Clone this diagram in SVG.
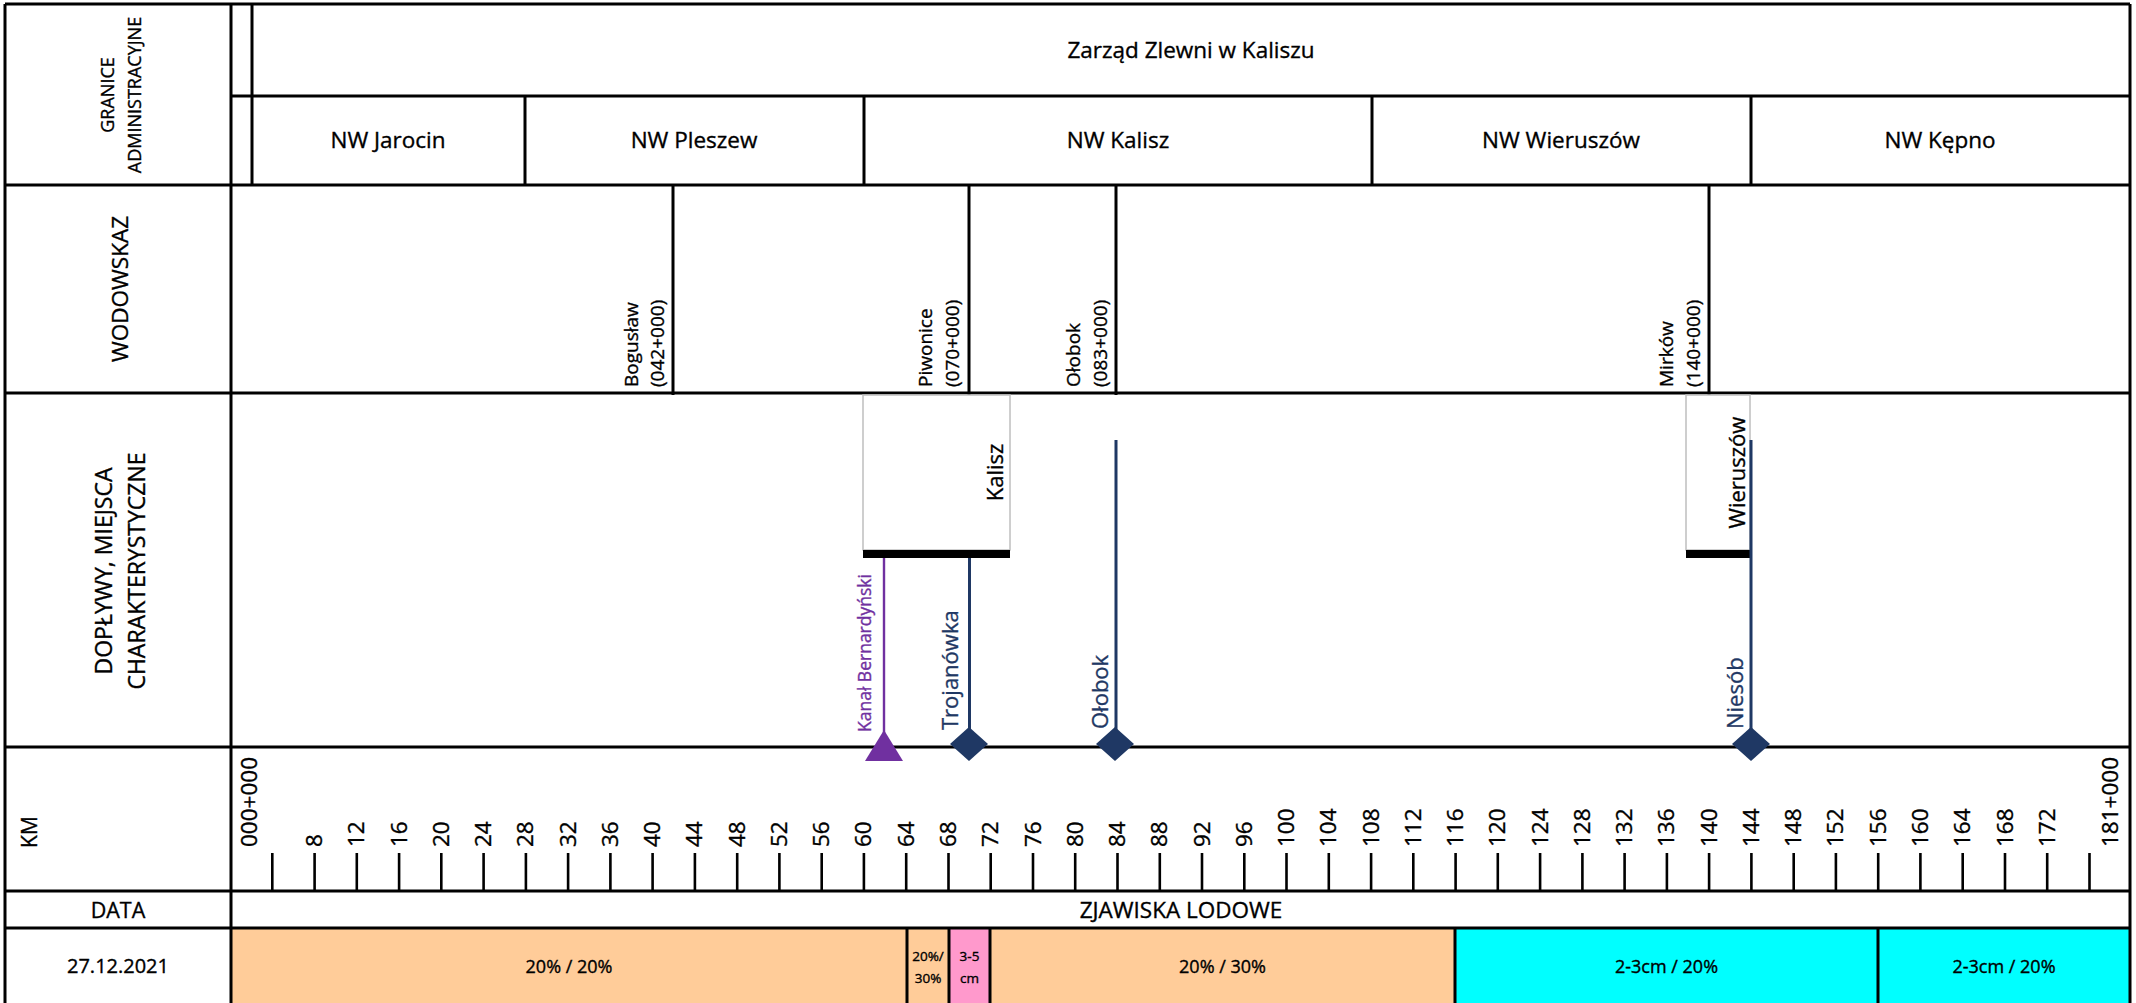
<svg xmlns="http://www.w3.org/2000/svg" width="2136" height="1003" viewBox="0 0 2136 1003">
<style>
.ln{stroke:#000;stroke-width:3;fill:none}
.tk{stroke:#000;stroke-width:2.6;fill:none}
.t{font-family:"Open Sans","Liberation Sans",sans-serif;fill:#000;stroke:#000;stroke-width:0.35}
.h{font-size:22.5px;text-anchor:middle}
.km{font-size:22.5px}
.gl{font-size:19px}
.trib{font-size:22px;fill:#1F3864;stroke:#1F3864}
.purp{font-size:17.5px;fill:#7030A0;stroke:#7030A0}
.cell{font-size:18px;text-anchor:middle}
.sm{font-size:13.5px;text-anchor:middle}
.box{fill:#fff;stroke:#BFBFBF;stroke-width:1.5}
.navy{stroke:#1F3864;stroke-width:3;fill:none}
</style>
<defs>
<path id="dia" d="M0,-17 L19,0 L0,17 L-19,0 Z" fill="#1F3864"/>
</defs>
<rect x="0" y="0" width="2136" height="1003" fill="#fff"/>

<g id="ice-cells">
<rect x="231" y="928" width="676" height="75" fill="#FFCC99"/>
<rect x="907" y="928" width="42" height="75" fill="#FFCC99"/>
<rect x="949" y="928" width="41" height="75" fill="#FF99CC"/>
<rect x="990" y="928" width="465" height="75" fill="#FFCC99"/>
<rect x="1455" y="928" width="423" height="75" fill="#00FFFF"/>
<rect x="1878" y="928" width="252" height="75" fill="#00FFFF"/>
</g>

<g id="grid">
<path class="ln" d="M5,4 H2130 M231,96 H2130 M5,185 H2130 M5,393 H2130 M5,747 H2130 M5,891 H2130 M5,928 H2130"/>
<path class="ln" d="M5,4 V1003 M2130,4 V1003 M231,4 V1003 M252,4 V185"/>
<path class="ln" d="M525,96 V185 M864,96 V185 M1372,96 V185 M1751,96 V185"/>
<path class="ln" d="M673,185 V395 M969,185 V395 M1116,185 V395 M1709,185 V395"/>
<path class="ln" d="M907,928 V1003 M949,928 V1003 M990,928 V1003 M1455,928 V1003 M1878,928 V1003"/>
</g>

<g id="headers">
<text class="t" font-size="18" text-anchor="middle" transform="translate(114,95) rotate(-90)">GRANICE<tspan x="0" dy="27">ADMINISTRACYJNE</tspan></text>
<text class="t" font-size="22.5" text-anchor="middle" transform="translate(128,289) rotate(-90)">WODOWSKAZ</text>
<text class="t" font-size="23" text-anchor="middle" transform="translate(112,571) rotate(-90)">DOPŁYWY, MIEJSCA<tspan x="0" dy="33">CHARAKTERYSTYCZNE</tspan></text>
<text class="t" font-size="21" text-anchor="middle" transform="translate(37,832) rotate(-90)">KM</text>
<text class="t" font-size="21.5" text-anchor="middle" x="118" y="918">DATA</text>
<text class="t" font-size="20" text-anchor="middle" x="118" y="973">27.12.2021</text>
<text class="t h" x="1191" y="58">Zarząd Zlewni w Kaliszu</text>
<text class="t h" x="1181" y="918">ZJAWISKA LODOWE</text>
</g>

<g id="admin">
<text class="t h" x="388" y="148">NW Jarocin</text>
<text class="t h" x="694" y="148">NW Pleszew</text>
<text class="t h" x="1118" y="148">NW Kalisz</text>
<text class="t h" x="1561" y="148">NW Wieruszów</text>
<text class="t h" x="1940" y="148">NW Kępno</text>
</g>

<g id="gauges">
<text class="t gl" transform="translate(638,387) rotate(-90)">Bogusław<tspan x="0" dy="26">(042+000)</tspan></text>
<text class="t gl" transform="translate(932,387) rotate(-90)">Piwonice<tspan x="0" dy="27">(070+000)</tspan></text>
<text class="t gl" transform="translate(1080,387) rotate(-90)">Ołobok<tspan x="0" dy="27">(083+000)</tspan></text>
<text class="t gl" transform="translate(1673,387) rotate(-90)">Mirków<tspan x="0" dy="27">(140+000)</tspan></text>
</g>

<g id="city-kalisz">
<rect class="box" x="863" y="395" width="147" height="155"/>
<rect x="863" y="550" width="147" height="8" fill="#000"/>
<text class="t" font-size="22" text-anchor="middle" transform="translate(1003,472.5) rotate(-90)">Kalisz</text>
</g>
<g id="city-wieruszow">
<rect class="box" x="1686" y="395" width="64" height="155"/>
<rect x="1686" y="550" width="64" height="8" fill="#000"/>
<text class="t" font-size="22" text-anchor="middle" transform="translate(1745,472.5) rotate(-90)">Wieruszów</text>
</g>

<g id="connectors">
<line x1="884" y1="558" x2="884" y2="735" stroke="#7030A0" stroke-width="2.4"/>
<line class="navy" x1="969.5" y1="558" x2="969.5" y2="735"/>
<line class="navy" x1="1116" y1="440" x2="1116" y2="735"/>
<line class="navy" x1="1751" y1="440" x2="1751" y2="735"/>
</g>

<g id="trib-kanal">
<polygon points="884,730 903,761 865,761" fill="#7030A0"/>
<text class="t purp" transform="translate(871,732) rotate(-90)">Kanał Bernardyński</text>
</g>
<g id="trib-trojanowka">
<use href="#dia" x="969" y="744"/>
<text class="t trib" transform="translate(958,730) rotate(-90)">Trojanówka</text>
</g>
<g id="trib-olobok">
<use href="#dia" x="1115" y="744"/>
<text class="t trib" transform="translate(1108,729) rotate(-90)">Ołobok</text>
</g>
<g id="trib-niesob">
<use href="#dia" x="1751" y="744"/>
<text class="t trib" transform="translate(1743,729) rotate(-90)">Niesób</text>
</g>

<g id="km-axis">
<path class="tk" d="M272.3,853V891 M314.6,853V891 M356.8,853V891 M399.1,853V891 M441.3,853V891 M483.6,853V891 M525.9,853V891 M568.1,853V891 M610.4,853V891 M652.6,853V891 M694.9,853V891 M737.2,853V891 M779.4,853V891 M821.7,853V891 M863.9,853V891 M906.2,853V891 M948.5,853V891 M990.7,853V891 M1033,853V891 M1075.2,853V891 M1117.5,853V891 M1159.8,853V891 M1202,853V891 M1244.3,853V891 M1286.5,853V891 M1328.8,853V891 M1371.1,853V891 M1413.3,853V891 M1455.6,853V891 M1497.8,853V891 M1540.1,853V891 M1582.4,853V891 M1624.6,853V891 M1666.9,853V891 M1709.1,853V891 M1751.4,853V891 M1793.7,853V891 M1835.9,853V891 M1878.2,853V891 M1920.4,853V891 M1962.7,853V891 M2005,853V891 M2047.2,853V891 M2089.5,853V891"/>
<g class="t km">
<text transform="translate(257,847) rotate(-90)">000+000</text>
<text transform="translate(322.1,847) rotate(-90)">8</text>
<text transform="translate(364.3,847) rotate(-90)">12</text>
<text transform="translate(406.6,847) rotate(-90)">16</text>
<text transform="translate(448.8,847) rotate(-90)">20</text>
<text transform="translate(491.1,847) rotate(-90)">24</text>
<text transform="translate(533.4,847) rotate(-90)">28</text>
<text transform="translate(575.6,847) rotate(-90)">32</text>
<text transform="translate(617.9,847) rotate(-90)">36</text>
<text transform="translate(660.1,847) rotate(-90)">40</text>
<text transform="translate(702.4,847) rotate(-90)">44</text>
<text transform="translate(744.7,847) rotate(-90)">48</text>
<text transform="translate(786.9,847) rotate(-90)">52</text>
<text transform="translate(829.2,847) rotate(-90)">56</text>
<text transform="translate(871.4,847) rotate(-90)">60</text>
<text transform="translate(913.7,847) rotate(-90)">64</text>
<text transform="translate(956,847) rotate(-90)">68</text>
<text transform="translate(998.2,847) rotate(-90)">72</text>
<text transform="translate(1040.5,847) rotate(-90)">76</text>
<text transform="translate(1082.7,847) rotate(-90)">80</text>
<text transform="translate(1125,847) rotate(-90)">84</text>
<text transform="translate(1167.3,847) rotate(-90)">88</text>
<text transform="translate(1209.5,847) rotate(-90)">92</text>
<text transform="translate(1251.8,847) rotate(-90)">96</text>
<text transform="translate(1294,847) rotate(-90)">100</text>
<text transform="translate(1336.3,847) rotate(-90)">104</text>
<text transform="translate(1378.6,847) rotate(-90)">108</text>
<text transform="translate(1420.8,847) rotate(-90)">112</text>
<text transform="translate(1463.1,847) rotate(-90)">116</text>
<text transform="translate(1505.3,847) rotate(-90)">120</text>
<text transform="translate(1547.6,847) rotate(-90)">124</text>
<text transform="translate(1589.9,847) rotate(-90)">128</text>
<text transform="translate(1632.1,847) rotate(-90)">132</text>
<text transform="translate(1674.4,847) rotate(-90)">136</text>
<text transform="translate(1716.6,847) rotate(-90)">140</text>
<text transform="translate(1758.9,847) rotate(-90)">144</text>
<text transform="translate(1801.2,847) rotate(-90)">148</text>
<text transform="translate(1843.4,847) rotate(-90)">152</text>
<text transform="translate(1885.7,847) rotate(-90)">156</text>
<text transform="translate(1927.9,847) rotate(-90)">160</text>
<text transform="translate(1970.2,847) rotate(-90)">164</text>
<text transform="translate(2012.5,847) rotate(-90)">168</text>
<text transform="translate(2054.7,847) rotate(-90)">172</text>
<text transform="translate(2118,847) rotate(-90)">181+000</text>
</g>
</g>

<g id="ice-text">
<text class="t cell" x="569" y="973">20% / 20%</text>
<text class="t sm" x="928" y="961">20%/</text>
<text class="t sm" x="928" y="983">30%</text>
<text class="t sm" x="969.5" y="961">3-5</text>
<text class="t sm" x="969.5" y="983">cm</text>
<text class="t cell" x="1222.5" y="973">20% / 30%</text>
<text class="t cell" x="1666.5" y="973">2-3cm / 20%</text>
<text class="t cell" x="2004" y="973">2-3cm / 20%</text>
</g>
</svg>
